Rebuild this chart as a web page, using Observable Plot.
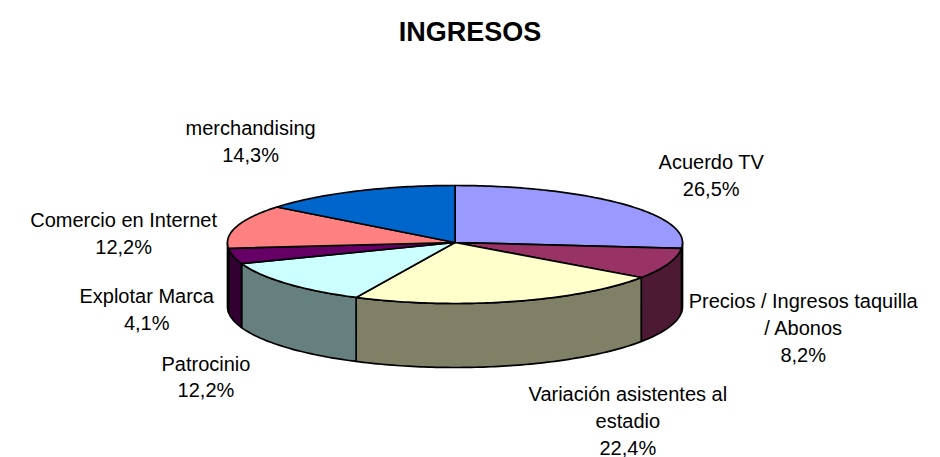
<!DOCTYPE html>
<html><head><meta charset="utf-8">
<script src="https://cdn.jsdelivr.net/npm/d3@7"></script>
<script src="https://cdn.jsdelivr.net/npm/@observablehq/plot@0.6"></script>
<style>
body{margin:0;background:#fff;}
#title{width:940px;height:64px;font:bold 27px "Liberation Sans",Arial,sans-serif;line-height:64px;text-align:center;color:#000;}
</style></head><body>
<div id="title"></div><div id="chart"></div>
<script>
// ---- data ----
const title = "INGRESOS";
const categories = ["Acuerdo TV", "Precios / Ingresos taquilla / Abonos", "Variación asistentes al estadio", "Patrocinio", "Explotar Marca", "Comercio en Internet", "merchandising"];
const shares = [26.5, 8.2, 22.4, 12.2, 4.1, 12.2, 14.3];
const sliceColors = ["#9999FF", "#993366", "#FFFFCC", "#CCFFFF", "#660066", "#FF8080", "#0066CC"];

// ---- layout ----
const W = 940, H = 393;
const cx = 454.5, cy = 178, rx = 227.5, ryBack = 57, ryFront = 61, depth = 64;
const fontPx = 20, lineH = 1.35, wrapWidth = 240;
const labelGap = 245, labelLy = 150;

document.getElementById("title").textContent = title;

const proj = (a, z) => {
  const c = Math.cos(a), s = Math.sin(a);
  return [cx + rx * s, cy - (c > 0 ? ryBack : ryFront) * c + z];
};
const arcPts = (a0, a1, z) => {
  const n = Math.max(2, Math.ceil((a1 - a0) / (Math.PI / 180)));
  return d3.range(n + 1).map(i => proj(a0 + (a1 - a0) * i / n, z));
};
const darker = col => { const c = d3.rgb(col); return d3.rgb(c.r / 2, c.g / 2, c.b / 2).formatHex(); };

const arcs = d3.pie().sort(null).value(d => d)(shares);

const walls = [], tops = [];
arcs.forEach((a, i) => {
  // top face
  const pts = [[cx, cy], ...arcPts(a.startAngle, a.endAngle, 0), [cx, cy]];
  pts.forEach(([x, y]) => tops.push({id: "t" + i, x, y, fill: sliceColors[i]}));
  // visible side wall (front half)
  const w0 = Math.max(a.startAngle, Math.PI / 2), w1 = Math.min(a.endAngle, 3 * Math.PI / 2);
  if (w1 > w0) {
    const up = arcPts(w0, w1, 0), dn = arcPts(w0, w1, depth).reverse();
    [...up, ...dn, up[0]].forEach(([x, y]) => walls.push({id: "w" + i, x, y, fill: darker(sliceColors[i])}));
  }
});

// labels
const ctx = document.createElement("canvas").getContext("2d");
ctx.font = `${fontPx}px "Liberation Sans"`;
const wrap = s => {
  const words = s.split(" "), lines = [];
  let cur = "";
  for (const w of words) {
    const t = cur ? cur + " " + w : w;
    if (cur && ctx.measureText(t).width > wrapWidth) { lines.push(cur); cur = w; } else cur = t;
  }
  lines.push(cur);
  return lines;
};
const fmt = v => d3.format(".1f")(v).replace(".", ",") + "%";
const labels = arcs.map((a, i) => {
  const m = (a.startAngle + a.endAngle) / 2;
  const lines = [...wrap(categories[i]), fmt(shares[i])];
  const w = d3.max(lines, l => ctx.measureText(l).width);
  const s = Math.sin(m), c = Math.cos(m);
  const sx = Math.sign(s) * Math.sqrt(Math.abs(s));
  return {
    text: lines.join("\n"),
    x: cx + (labelGap + w / 2) * sx,
    y: cy + depth / 2 - labelLy * c
  };
});

const chart = Plot.plot({
  width: W, height: H, margin: 0,
  style: {background: "#fff"},
  x: {domain: [0, W], range: [0, W], axis: null},
  y: {domain: [0, H], range: [0, H], axis: null},
  color: {type: "identity"},
  marks: [
    Plot.line(walls, {x: "x", y: "y", z: "id", fill: "fill", stroke: "#000", strokeWidth: 1.7, strokeLinejoin: "round"}),
    Plot.line(tops, {x: "x", y: "y", z: "id", fill: "fill", stroke: "#000", strokeWidth: 1.7, strokeLinejoin: "round"}),
    Plot.text(labels, {x: "x", y: "y", text: "text", fontSize: fontPx, fontFamily: "Liberation Sans, Arial, sans-serif", lineHeight: lineH, lineAnchor: "middle", textAnchor: "middle", fill: "#000"})
  ]
});
document.getElementById("chart").appendChild(chart);
</script>
</body></html>
